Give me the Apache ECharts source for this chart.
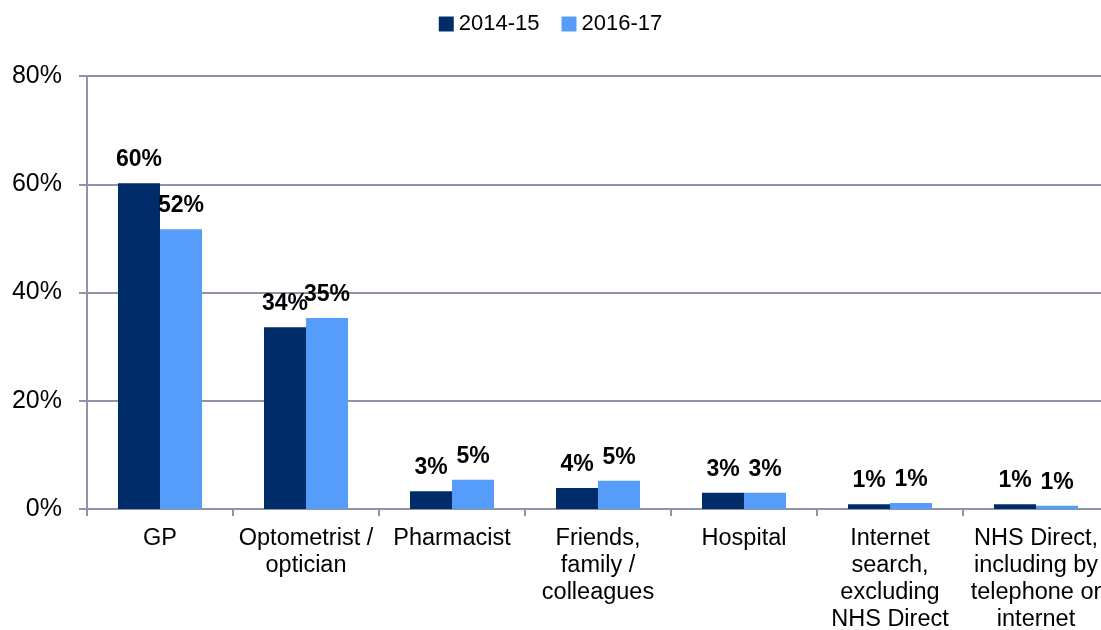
<!DOCTYPE html>
<html>
<head>
<meta charset="utf-8">
<script src="https://cdn.jsdelivr.net/npm/echarts@6/dist/echarts.min.js"></script>
<style>
  html, body { margin: 0; padding: 0; background: #fff; }
  #main { width: 1101px; height: 630px; }
</style>
</head>
<body>
<div id="main"></div>
<script>
const chart = echarts.init(document.getElementById('main'));

// categories (x axis)
let sources = [
    'GP',
    'Optometrist /\noptician',
    'Pharmacist',
    'Friends,\nfamily /\ncolleagues',
    'Hospital',
    'Internet\nsearch,\nexcluding\nNHS Direct',
    'NHS Direct,\nincluding by\ntelephone or\ninternet'
];
// percentages
let y2014 = [60.2, 33.6, 3.3, 3.9, 3.0, 0.9, 0.9];
let y2016 = [51.7, 35.3, 5.4, 5.2, 3.0, 1.1, 0.6];

const fontFam = 'Liberation Sans, Arial, sans-serif';
const gridCol = '#8e93a8';

const labelCfg = {
    show: true,
    position: 'top',
    distance: 12,
    fontFamily: fontFam,
    fontSize: 23,
    fontWeight: 'bold',
    color: '#000',
    formatter: p => Math.round(p.value) + '%'
};

let option = {
    backgroundColor: '#fff',
    textStyle: { fontFamily: fontFam },
    legend: {
        top: 8,
        left: 'center',
        itemWidth: 15,
        itemHeight: 15,
        itemGap: 22,
        icon: 'rect',
        textStyle: { fontSize: 22, color: '#000', fontFamily: fontFam }
    },
    grid: {
        left: 87,
        right: -8,
        top: 76,
        bottom: 121,
        containLabel: false,
        outerBoundsMode: 'none'
    },
    xAxis: {
        type: 'category',
        data: sources,
        axisLine: { lineStyle: { color: gridCol, width: 2 } },
        axisTick: { show: true, length: 7, lineStyle: { color: gridCol, width: 2 } },
        axisLabel: {
            interval: 0,
            margin: 16,
            fontSize: 23.5,
            lineHeight: 27,
            color: '#000',
            fontFamily: fontFam
        }
    },
    yAxis: {
        type: 'value',
        min: 0,
        max: 80,
        interval: 20,
        axisLine: { show: true, lineStyle: { color: gridCol, width: 2 } },
        axisTick: { show: true, length: 8, lineStyle: { color: gridCol, width: 2 } },
        splitLine: { lineStyle: { color: gridCol, width: 2 } },
        axisLabel: {
            margin: 25,
            fontSize: 25,
            color: '#000',
            fontFamily: fontFam,
            formatter: '{value}%'
        }
    },
    series: [
        {
            name: '2014-15',
            type: 'bar',
            data: y2014,
            barWidth: 42,
            barGap: '0%',
            itemStyle: { color: '#002d6a' },
            label: labelCfg
        },
        {
            name: '2016-17',
            type: 'bar',
            data: y2016,
            barWidth: 42,
            itemStyle: { color: '#569cfb' },
            label: labelCfg
        }
    ]
};

chart.setOption(option);
</script>
</body>
</html>
